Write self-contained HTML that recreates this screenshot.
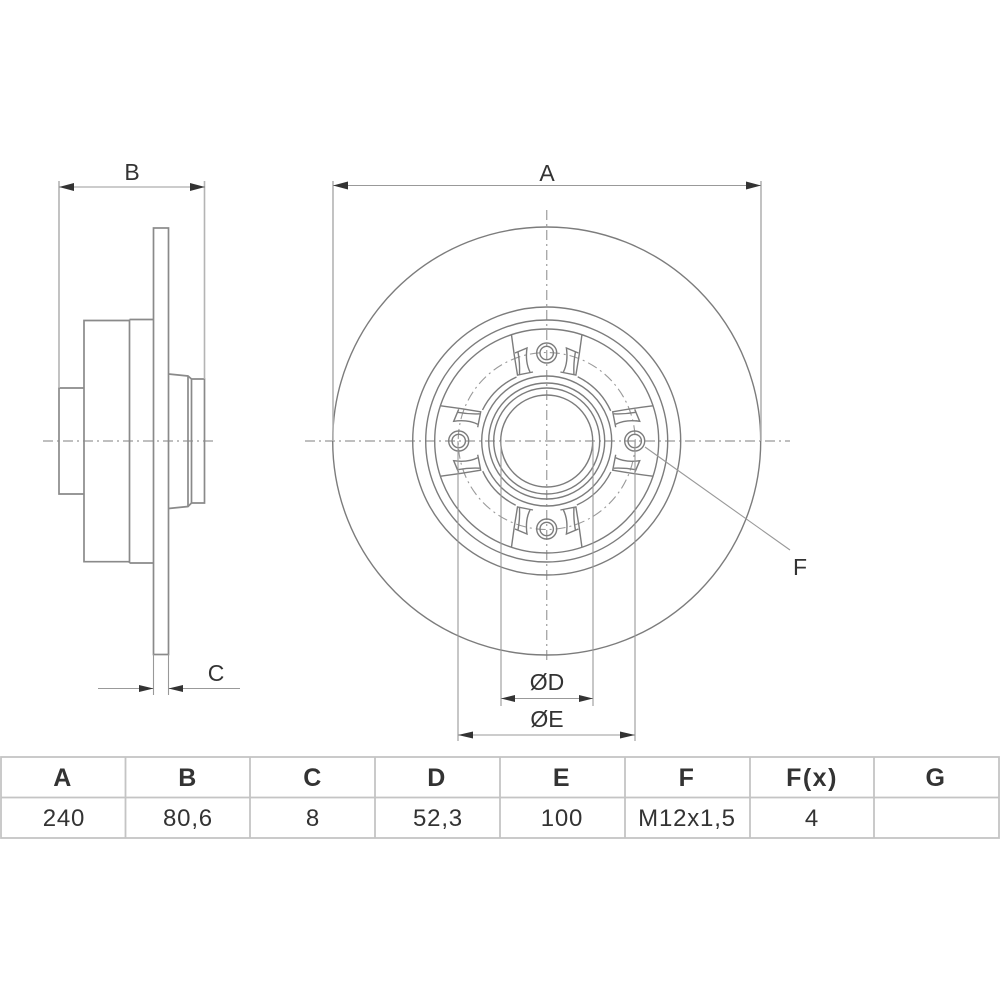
<!DOCTYPE html>
<html><head><meta charset="utf-8"><style>
html,body{margin:0;padding:0;background:#fff}
svg{display:block}
text{font-family:"Liberation Sans",sans-serif;fill:#333;text-anchor:middle}
.b{filter:blur(.35px)}
.l{fill:none;stroke:#7c7c7c;stroke-width:1.4}
.s{fill:none;stroke:#8a8a8a;stroke-width:1.7}
.t{fill:none;stroke:#999;stroke-width:1.1}
.e{fill:none;stroke:#b4b4b4;stroke-width:1.6}
.c{fill:none;stroke:#aaa;stroke-width:1.4;stroke-dasharray:10 4 2 4}
.k{fill:#333;stroke:none}
.g{stroke:#c4c4c4;stroke-width:1.8;fill:none}
.h{font-size:25px;font-weight:bold;letter-spacing:1.5px}
.v{font-size:24px;letter-spacing:.8px}
.d{font-size:23px}
</style></head><body>
<svg width="1000" height="1000" viewBox="0 0 1000 1000" xmlns="http://www.w3.org/2000/svg">
<defs>
<g id="half" class="l">
<path d="M511.500 335Q514 355 517.500 375L533 372"/>
<path d="M515 353L527 348Q525 362 530 372"/>
<path d="M518 352Q520 363 519.500 374"/>
</g>
<g id="spoke">
<use href="#half"/>
<use href="#half" transform="translate(1093.4 0) scale(-1 1)"/>
<circle class="l" cx="546.7" cy="353" r="10"/>
<circle class="l" cx="546.7" cy="353" r="6.7"/>
</g>
</defs>

<g class="b">
<!-- centre lines -->
<path class="c" d="M43 441H216"/>
<path class="c" d="M305 441H790"/>
<path class="c" d="M546.7 210V660" stroke-width="1.1"/>

<!-- side view -->
<g class="s">
<rect x="153.5" y="228" width="15" height="426.5"/>
<path d="M153.5 319.500H129.500M153.500 563H129.500M129.500 319.500V563"/>
<path d="M129.500 320.500H84V561.700H129.500"/>
<path d="M84 388H59V494H84"/>
<path d="M168.500 374L188 376L191.500 379H204.500V503H191.500L188 506.500L168.500 508.500"/>
<path d="M188 376V506.500M191.500 379V503"/>
</g>
<path class="e" d="M59 181V388M204.500 181V379"/>
<path class="t" d="M59 187H205"/>
<path class="k" d="M59 187L74 183V191ZM205 187L190 183V191Z"/>
<text class="d" x="132" y="180">B</text>
<path class="t" d="M153.500 654V695M168.500 654V695M98 688.500H153.500M168.500 688.500H240"/>
<path class="k" d="M153.500 688.500L139 685V692ZM168.500 688.500L183 685V692Z"/>
<text class="d" x="216" y="681">C</text>

<!-- front view -->
<g class="l">
<circle cx="546.7" cy="441" r="214"/>
<circle cx="546.7" cy="441" r="134"/>
<circle cx="546.7" cy="441" r="121"/>
<circle cx="546.7" cy="441" r="112"/>
<circle cx="546.7" cy="441" r="65"/>
<circle cx="546.7" cy="441" r="58"/>
<circle cx="546.7" cy="441" r="53"/>
<circle cx="546.7" cy="441" r="46"/>
</g>
<g class="l">
<path id="qa" d="M516.500 377A71 71 0 0 0 482.500 410"/>
<use href="#qa" transform="rotate(90 546.7 441)"/>
<use href="#qa" transform="rotate(180 546.7 441)"/>
<use href="#qa" transform="rotate(270 546.7 441)"/>
</g>
<circle cx="546.7" cy="441" r="88.5" fill="none" stroke="#999" stroke-width="1.1" stroke-dasharray="10 4 2 4"/>
<use href="#spoke"/>
<use href="#spoke" transform="rotate(90 546.7 441)"/>
<use href="#spoke" transform="rotate(180 546.7 441)"/>
<use href="#spoke" transform="rotate(270 546.7 441)"/>

<path class="e" d="M333 181V441M761 181V441"/>
<path class="t" d="M333 185.500H761"/>
<path class="k" d="M333 185.500L348 181.500V189.500ZM761 185.500L746 181.500V189.500Z"/>
<text class="d" x="547" y="181">A</text>

<path class="t" d="M458 441V741M635 441V741M501 441V706M593 441V706"/>
<path class="t" d="M501 698.500H593M458 735H635"/>
<path class="k" d="M501 698.500L515 695V702ZM593 698.500L579 695V702ZM458 735L473 731.500V738.500ZM635 735L620 731.500V738.500Z"/>
<text class="d" x="547" y="690">ØD</text>
<text class="d" x="547" y="727">ØE</text>

<path class="t" d="M645 447L790 550"/>
<text class="d" x="800" y="575">F</text>

<!-- table -->
<rect class="g" x="1" y="757" width="998" height="81"/>
<path class="g" d="M1 797.500H999M125.500 757V838M250 757V838M375 757V838M500 757V838M625 757V838M750 757V838M874 757V838"/>
<g class="h">
<text x="63" y="786">A</text>
<text x="188" y="786">B</text>
<text x="313" y="786">C</text>
<text x="437" y="786">D</text>
<text x="562" y="786">E</text>
<text x="687" y="786">F</text>
<text x="812" y="786">F(x)</text>
<text x="936" y="786">G</text>
</g>
<g class="v">
<text x="64" y="826">240</text>
<text x="188" y="826">80,6</text>
<text x="313" y="826">8</text>
<text x="438" y="826">52,3</text>
<text x="562" y="826">100</text>
<text x="687" y="826">M12x1,5</text>
<text x="812" y="826">4</text>
</g>
</g>
</svg>
</body></html>
